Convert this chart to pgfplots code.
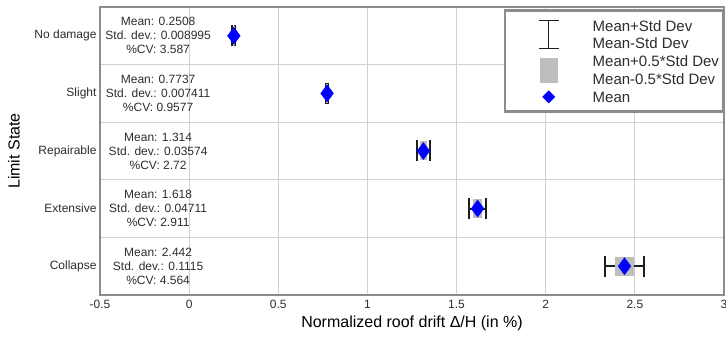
\documentclass[border=0pt]{standalone}
\usepackage{pgfplots}
\usepackage{pgfplotstable}
\pgfplotsset{compat=1.18}
\usepackage{fontspec}
\setmainfont{Liberation Sans}

\definecolor{axgray}{RGB}{140,140,140}
\definecolor{gridgray}{RGB}{208,208,208}
\definecolor{boxgray}{RGB}{190,190,190}
\definecolor{txt}{RGB}{45,45,45}
\definecolor{barblack}{RGB}{30,30,30}

% limit state position (5 = top row), mean drift, standard deviation
\pgfplotstableread{
y m s
5 0.2508 0.008995
4 0.7737 0.007411
3 1.314 0.03574
2 1.618 0.04711
1 2.442 0.1115
}\drift

\begin{document}
\begin{tikzpicture}
\begin{axis}[
  scale only axis, width=624pt, height=288pt,
  xmin=-0.5, xmax=3, ymin=0.5, ymax=5.5,
  xtick={-0.5,0,0.5,1,1.5,2,2.5,3},
  xticklabels={-0.5,0,0.5,1,1.5,2,2.5,3},
  ytick={1,2,3,4,5},
  yticklabels={Collapse,Extensive,Repairable,Slight,No damage},
  minor ytick={1.5,2.5,3.5,4.5},
  xmajorgrids, yminorgrids,
  major tick length=0pt, minor tick length=0pt,
  grid style={draw=gridgray, line width=1pt},
  minor grid style={draw=gridgray, line width=1pt},
  axis line style={draw=axgray, line width=2.5pt},
  tick label style={font=\fontsize{12}{14}\selectfont, text=txt},
  xticklabel style={yshift=-2pt},
  xlabel={Normalized roof drift Δ/H (in \%)},
  ylabel={Limit State},
  label style={font=\fontsize{16}{19}\selectfont, text=black},
  xlabel style={at={(axis description cs:0.5,-0.1)}, anchor=center},
  ylabel style={at={(axis description cs:-0.138,0.5)}, anchor=center},
  legend style={at={(rel axis cs:1,1)}, anchor=north east,
    xshift=0pt, yshift=-2.5pt,
    draw=axgray, line width=2.5pt, fill=white,
    inner xsep=3.75pt, inner ysep=6pt,
    font=\fontsize{15}{18}\selectfont, text=txt,
    nodes={inner sep=0pt, text height=14.4pt, text depth=3.4pt},
    row sep=0pt, column sep=0pt},
  legend cell align=left,
]
% whiskers at mean +/- one standard deviation
\addplot[draw=none, mark=none, forget plot,
  error bars/.cd, x dir=both, x explicit, error mark=|,
  error bar style={draw=barblack, line width=2pt},
  error mark options={draw=barblack, line width=2pt, mark size=10.5pt}]
  table[x=m, y=y, x error=s]{\drift};
% shaded band at mean +/- half a standard deviation
\addplot[draw=none, mark=none, forget plot,
  error bars/.cd, x dir=both, x explicit, error mark=none,
  error bar style={draw=boxgray, line width=19pt}]
  table[x=m, y=y, x error expr=0.5*\thisrow{s}]{\drift};
% mean values
\addplot[only marks, mark=diamond*, mark size=8.5pt, forget plot,
  mark options={fill=blue, draw=blue, line width=0.4pt}]
  table[x=m, y=y]{\drift};

% statistics printed in each row
\begin{scope}[every node/.style={align=center, text=txt,
    font=\fontsize{12}{14}\selectfont}]
\node at (axis cs:-0.174,5) {Mean: 0.2508\\Std. dev.: 0.008995\\\%CV: 3.587};
\node at (axis cs:-0.174,4) {Mean: 0.7737\\Std. dev.: 0.007411\\\%CV: 0.9577};
\node at (axis cs:-0.174,3) {Mean: 1.314\\Std. dev.: 0.03574\\\%CV: 2.72};
\node at (axis cs:-0.174,2) {Mean: 1.618\\Std. dev.: 0.04711\\\%CV: 2.911};
\node at (axis cs:-0.174,1) {Mean: 2.442\\Std. dev.: 0.1115\\\%CV: 4.564};
\end{scope}

% legend
\addlegendimage{legend image code/.code={
  \path[draw=none, fill=none] (0pt,0pt) rectangle (84pt,1pt);
  \draw[overlay, draw=barblack, line width=1.6pt]
    (40pt,-23pt) -- (40pt,5pt)
    (30pt,-23pt) -- (50pt,-23pt)
    (30pt,5pt) -- (50pt,5pt);}}
\addlegendentry{Mean+Std Dev}
\addlegendimage{legend image code/.code={\path[draw=none, fill=none] (0pt,0pt) rectangle (84pt,1pt);}}
\addlegendentry{Mean-Std Dev}
\addlegendimage{legend image code/.code={
  \path[draw=none, fill=none] (0pt,0pt) rectangle (84pt,1pt);
  \fill[overlay, boxgray, draw=none] (31pt,-21.5pt) rectangle (49pt,3.5pt);}}
\addlegendentry{Mean+0.5*Std Dev}
\addlegendimage{legend image code/.code={\path[draw=none, fill=none] (0pt,0pt) rectangle (84pt,1pt);}}
\addlegendentry{Mean-0.5*Std Dev}
\addlegendimage{legend image code/.code={
  \path[draw=none, fill=none] (0pt,0pt) rectangle (84pt,1pt);
  \fill[overlay, blue, draw=none] (40pt,6.5pt) -- (46.5pt,0pt) -- (40pt,-6.5pt) -- (33.5pt,0pt) -- cycle;}}
\addlegendentry{Mean}
\end{axis}
\pgfresetboundingbox
\path ([shift={(-100pt,-44pt)}]current axis.south west)
  rectangle ([shift={(2pt,7pt)}]current axis.north east);
\end{tikzpicture}
\end{document}
